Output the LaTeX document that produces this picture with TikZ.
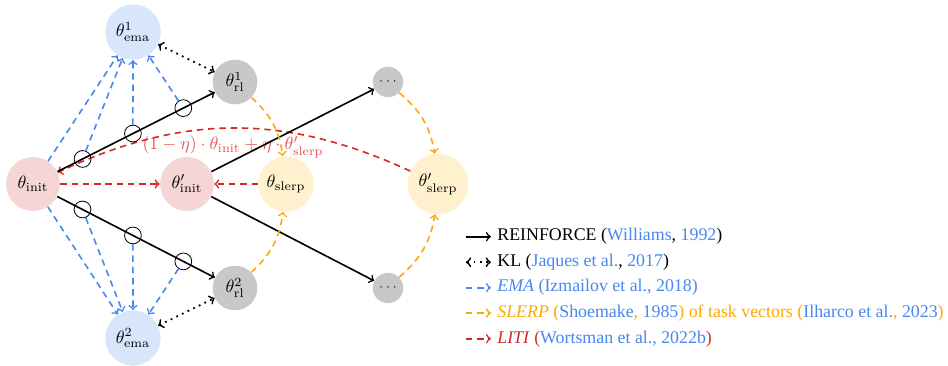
\documentclass[tikz,border=0pt]{standalone}
\usepackage{xcolor}
\usepackage{fontspec}
\usetikzlibrary{arrows, positioning}
\newfontfamily\legendfont{Liberation Serif}
\definecolor{initfill}{RGB}{246,213,213}
\definecolor{emafill}{RGB}{215,230,251}
\definecolor{rlfill}{RGB}{200,200,200}
\definecolor{slerpfill}{RGB}{255,240,206}
\definecolor{emacolor}{RGB}{70,135,240}
\definecolor{slerpcolor}{RGB}{255,168,0}
\definecolor{liticolor}{RGB}{215,40,40}
\definecolor{mixcolor}{RGB}{228,85,85}

\begin{document}
\begin{tikzpicture}[x=0.56pt, y=-0.56pt,
    param/.style={circle, inner sep=0pt},
    mixer/.style={circle, draw, line width=0.45pt, minimum size=9.4pt, inner sep=0pt},
    reinforce/.style={->, black, line width=0.9pt},
    kl/.style={<->, black, line width=1pt, dash pattern=on 1pt off 2.5pt},
    ema/.style={->, emacolor, line width=0.9pt, dash pattern=on 3.6pt off 2.7pt},
    slerpline/.style={->, slerpcolor, line width=0.9pt, dash pattern=on 3.6pt off 2.7pt},
    liti/.style={->, liticolor, line width=0.9pt, dash pattern=on 3.6pt off 2.7pt},
    legtext/.style={anchor=base west, inner sep=0pt, font=\legendfont}]
    \useasboundingbox (0,0) rectangle (948,366);

    % parameters
    \node[param, fill=initfill, minimum size=30.2pt] (init) at (33,184) {$\theta_{\mathrm{init}}$};
    \node[param, fill=initfill, minimum size=30.2pt] (initp) at (187,184) {$\theta'_{\mathrm{init}}$};
    \node[param, fill=slerpfill, minimum size=31pt] (slerp) at (286,184) {$\theta_{\mathrm{slerp}}$};
    \node[param, fill=slerpfill, minimum size=33.8pt] (slerpp) at (438,184) {$\theta'_{\mathrm{slerp}}$};
    \node[param, fill=emafill, minimum size=31pt] (emaA) at (133,32) {$\theta^1_{\mathrm{ema}}$};
    \node[param, fill=emafill, minimum size=31pt] (emaB) at (133,338) {$\theta^2_{\mathrm{ema}}$};
    \node[param, fill=rlfill, minimum size=25pt] (rlA) at (235,82) {$\theta^1_{\mathrm{rl}}$};
    \node[param, fill=rlfill, minimum size=25pt] (rlB) at (235,288) {$\theta^2_{\mathrm{rl}}$};
    \node[param, fill=rlfill, minimum size=17pt] (dotsA) at (388,82) {\scriptsize$\cdots$};
    \node[param, fill=rlfill, minimum size=17pt] (dotsB) at (388,288) {\scriptsize$\cdots$};

    % LITI
    \node[text=mixcolor] (mix) at (233,147) {$(1-\eta)\cdot\theta_{\mathrm{init}}+\eta\cdot\theta'_{\mathrm{slerp}}$};
    \draw[liti] (slerpp) to[bend right=25] (init);
    \draw[liti] (init) -- (initp);
    \draw[liti] (slerp) -- (initp);

    % REINFORCE
    \draw[reinforce] (init) -- (rlA)
        node[pos=0.16, mixer] (mA1) {}
        node[pos=0.48, mixer] (mA2) {}
        node[pos=0.8, mixer] (mA3) {};
    \draw[reinforce] (init) -- (rlB)
        node[pos=0.16, mixer] (mB1) {}
        node[pos=0.48, mixer] (mB2) {}
        node[pos=0.8, mixer] (mB3) {};
    \draw[reinforce] (initp) -- (dotsA);
    \draw[reinforce] (initp) -- (dotsB);

    % EMA
    \draw[ema] (init) -- (emaA);
    \draw[ema] (mA1) -- (emaA);
    \draw[ema] (mA2) -- (emaA);
    \draw[ema] (mA3) -- (emaA);
    \draw[ema] (init) -- (emaB);
    \draw[ema] (mB1) -- (emaB);
    \draw[ema] (mB2) -- (emaB);
    \draw[ema] (mB3) -- (emaB);

    % KL
    \draw[kl] (emaA) -- (rlA);
    \draw[kl] (emaB) -- (rlB);

    % SLERP
    \draw[slerpline] (rlA) to[bend left=20] (slerp);
    \draw[slerpline] (rlB) to[bend right=20] (slerp);
    \draw[slerpline] (dotsA) to[bend left=20] (slerpp);
    \draw[slerpline] (dotsB) to[bend right=20] (slerpp);

    % legend
    \node[legtext] (legRL) at (497,241) {REINFORCE (\textcolor{emacolor}{Williams}, \textcolor{emacolor}{1992})};
    \node[legtext] (legKL) at (497,266.5) {KL (\textcolor{emacolor}{Jaques et al.}, \textcolor{emacolor}{2017})};
    \node[legtext, text=emacolor] (legEMA) at (497,292) {\textit{EMA} (Izmailov et al., 2018)};
    \node[legtext, text=slerpcolor] (legSL) at (497,317.5) {\textit{SLERP} (\textcolor{emacolor}{Shoemake}, \textcolor{emacolor}{1985}) of task vectors (\textcolor{emacolor}{Ilharco et al.}, \textcolor{emacolor}{2023})};
    \node[legtext, text=liticolor] (legLI) at (497,343) {\textit{LITI} (\textcolor{emacolor}{Wortsman et al., 2022b})};
    \draw[reinforce] ([xshift=-17.4pt]legRL.west) -- ([xshift=-3.4pt]legRL.west);
    \draw[kl] ([xshift=-17.4pt]legKL.west) -- ([xshift=-3.4pt]legKL.west);
    \draw[ema] ([xshift=-17.4pt]legEMA.west) -- ([xshift=-3.4pt]legEMA.west);
    \draw[slerpline] ([xshift=-17.4pt]legSL.west) -- ([xshift=-3.4pt]legSL.west);
    \draw[liti] ([xshift=-17.4pt]legLI.west) -- ([xshift=-3.4pt]legLI.west);
\end{tikzpicture}
\end{document}
